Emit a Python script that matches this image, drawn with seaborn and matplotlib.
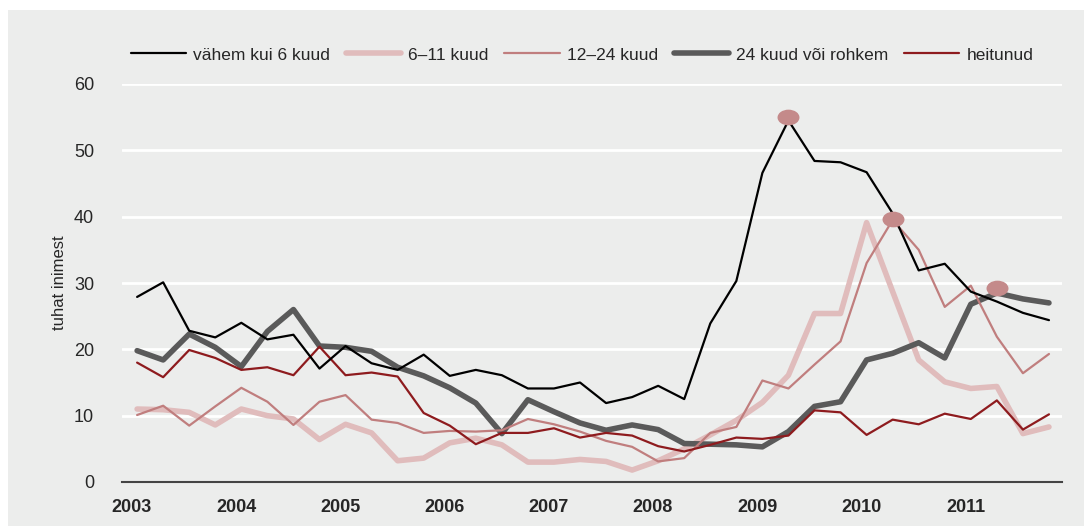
import numpy as np
import pandas as pd
import seaborn as sns
import matplotlib.pyplot as plt
from matplotlib.path import Path
from matplotlib.transforms import Affine2D
from matplotlib.patches import Rectangle

# quarterly data 2003 Q1 - 2011 Q4, thousand people
years = list(range(2003, 2012))
quarters = [f'{y} Q{q}' for y in years for q in range(1, 5)]

under_6 = [27.9, 30.1, 22.8, 21.8, 24.0, 21.5, 22.2, 17.1, 20.5, 17.9, 16.9, 19.2,
           16.0, 16.9, 16.1, 14.1, 14.1, 15.0, 11.9, 12.8, 14.5, 12.5, 23.9, 30.3,
           46.6, 54.5, 48.4, 48.2, 46.7, 40.5, 31.9, 32.9, 28.7, 27.2, 25.5, 24.4]
m6_11 = [11.0, 10.9, 10.5, 8.6, 11.0, 10.0, 9.5, 6.4, 8.7, 7.4, 3.2, 3.6,
         5.9, 6.6, 5.6, 3.0, 3.0, 3.4, 3.1, 1.8, 3.2, 5.0, 7.1, 9.3,
         12.0, 16.1, 25.4, 25.4, 39.1, 28.7, 18.4, 15.1, 14.1, 14.4, 7.3, 8.3]
m12_24 = [10.1, 11.5, 8.5, 11.4, 14.2, 12.1, 8.6, 12.1, 13.1, 9.4, 8.9, 7.4,
          7.7, 7.6, 7.8, 9.5, 8.7, 7.6, 6.2, 5.3, 3.1, 3.6, 7.4, 8.3,
          15.3, 14.1, 17.7, 21.2, 33.0, 39.5, 35.0, 26.4, 29.6, 21.9, 16.4, 19.3]
m24_plus = [19.8, 18.4, 22.3, 20.3, 17.4, 22.7, 26.0, 20.5, 20.3, 19.7, 17.3, 16.0,
            14.2, 11.9, 7.3, 12.4, 10.6, 8.9, 7.8, 8.6, 7.9, 5.8, 5.7, 5.6,
            5.3, 7.6, 11.4, 12.1, 18.4, 19.4, 21.0, 18.7, 26.8, 28.5, 27.6, 27.0]
discouraged = [18.0, 15.8, 19.9, 18.7, 16.9, 17.3, 16.1, 20.4, 16.1, 16.5, 15.9, 10.4,
               8.5, 5.7, 7.4, 7.4, 8.1, 6.7, 7.4, 7.0, 5.4, 4.6, 5.6, 6.7,
               6.5, 7.0, 10.8, 10.5, 7.1, 9.4, 8.7, 10.3, 9.5, 12.3, 7.9, 10.2]

# peak markers (quarter index, value)
peak_idx = [25, 29, 33]
peak_val = [55.0, 39.7, 29.3]

labels = ['vähem kui 6 kuud', '6–11 kuud', '12–24 kuud', '24 kuud või rohkem', 'heitunud']
series = [under_6, m6_11, m12_24, m24_plus, discouraged]
colors = ['#000000', '#E0BCBC', '#C07E7E', '#5A5A5A', '#8E1B1E']
widths = [1.6, 4.0, 1.6, 4.0, 1.6]
zorders = [6, 3, 4, 3.5, 5]

df = pd.DataFrame({'x': np.arange(len(quarters))})
for lab, s in zip(labels, series):
    df[lab] = s

sns.set_style('white')
plt.rcParams['font.family'] = ['Liberation Sans', 'DejaVu Sans']

bg = '#ECEDEC'
fig = plt.figure(figsize=(10.92, 5.31), dpi=100, facecolor='white')
fig.patches.append(Rectangle((8 / 1092, 5 / 531), 1076 / 1092, 516 / 531,
                             transform=fig.transFigure, facecolor=bg,
                             edgecolor='none', zorder=-10))
ax = fig.add_axes([122 / 1092, 1 - 482 / 531, 940 / 1092, 398 / 531])
ax.set_facecolor(bg)

for lab, c, w, z in zip(labels, colors, widths, zorders):
    sns.lineplot(data=df, x='x', y=lab, color=c, linewidth=w, ax=ax,
                 label=lab, zorder=z)

ellipse = Path.unit_circle().transformed(Affine2D().scale(1.4, 1.0))
ax.scatter(peak_idx, peak_val, marker=ellipse, s=250, color='#C48A8A',
           zorder=10, linewidths=0)

ax.set_ylim(0, 60)
ax.set_xlim(-0.58, 35.5)
ax.set_yticks(range(0, 61, 10))
ax.set_xticks(np.arange(0, 36, 4) - 0.2)
ax.set_xticklabels([str(y) for y in years], fontweight='bold', fontsize=13)
ax.tick_params(axis='y', length=0, pad=20, labelsize=13)
ax.tick_params(axis='x', length=0, pad=12)
ax.grid(axis='y', color='white', linewidth=2)
ax.set_axisbelow(True)
for s in ['top', 'right', 'left']:
    ax.spines[s].set_visible(False)
ax.spines['bottom'].set_color('#444444')
ax.spines['bottom'].set_linewidth(1.5)
ax.set_xlabel('')
ax.set_ylabel('tuhat inimest', fontsize=12, labelpad=5)

ax.legend(loc='center', bbox_to_anchor=(0.533, 1 - 55 / 531),
          bbox_transform=fig.transFigure, ncol=5, frameon=False,
          fontsize=12.5, handlelength=3.2, handletextpad=0.4,
          columnspacing=0.9)

fig.savefig('out.png', dpi=100, facecolor='white')
